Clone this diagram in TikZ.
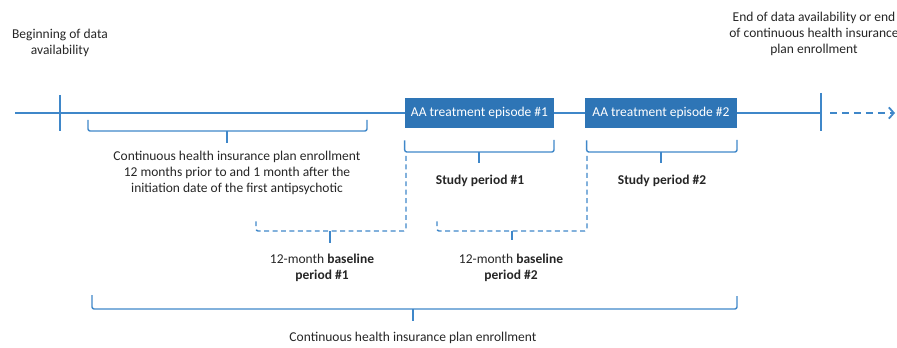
\documentclass[tikz,border=0pt]{standalone}
\usepackage{fontspec}
\setmainfont{Carlito}
\usetikzlibrary{arrows.meta}
\definecolor{aablue}{HTML}{2E75B6}
\definecolor{lineblue}{HTML}{3F87C9}
\definecolor{txtgray}{HTML}{262626}

\begin{document}
\begin{tikzpicture}[x=0.025cm,y=-0.025cm,
  every node/.style={align=center, text=txtgray, font=\fontsize{9.6}{11.4}\selectfont},
  tl/.style={draw=lineblue, line width=1.3pt},
  brace/.style={draw=lineblue, line width=1pt, rounded corners=1.5pt},
  dbrace/.style={brace, dash pattern=on 3.5pt off 2.5pt},
  episode/.style={fill=aablue, text=white, inner sep=0pt, minimum height=0.75cm,
    font=\fontsize{9.6}{12}\selectfont}]
  \useasboundingbox (0,0) rectangle (897,348);

  % labels at the ends of the timeline
  \node (begin) at (60,43) {Beginning of data\\availability};
  \node (endtxt) at (814,34) {End of data availability or end\\of continuous health insurance\\plan enrollment};

  % timeline
  \node[episode, minimum width=3.725cm] (ep1) at (479.5,113) {AA treatment episode \#1};
  \node[episode, minimum width=3.8cm] (ep2) at (661,113) {AA treatment episode \#2};
  \coordinate (start) at (15,113);
  \coordinate (stop) at (821,113);
  \coordinate (fut) at (830,113);
  \coordinate (futend) at (895,113);
  \draw[tl] (start) -- (ep1.west);
  \draw[tl] (ep1.east) -- (ep2.west);
  \draw[tl] (ep2.east) -- (stop);
  \draw[tl, dash pattern=on 5pt off 3.5pt, -{Straight Barb[length=3.5pt,width=8pt]}] (fut) -- (futend);
  \draw[tl] (60,95) -- (60,131);
  \draw[tl] (stop) ++(0,-20) -- ++(0,38);

  % enrollment around the first antipsychotic
  \draw[brace] (88,120) |- (367,131) -- (367,120);
  \draw[brace] (227,131) -- (227,143);
  \node (cont1) at (237,173) {Continuous health insurance plan enrollment\\12 months prior to and 1 month after the\\initiation date of the first antipsychotic};

  % study periods
  \draw[brace] (ep1.south west) ++(0,12) |- (554,152) -- (554,140);
  \draw[brace] (479,152) -- (479,163);
  \node (study1) at (480,181) {\textbf{Study period \#1}};
  \draw[brace] (ep2.south west) ++(2,12) |- (737,152) -- (737,140);
  \draw[brace] (661,152) -- (661,163);
  \node (study2) at (662,181) {\textbf{Study period \#2}};

  % baseline periods
  \draw[dbrace] (406,156) -- (406,231) -- (256,231) -- (256,218);
  \draw[brace] (330,231) -- (330,243);
  \node (base1) at (322,268) {12-month \textbf{baseline}\\\textbf{period \#1}};
  \draw[dbrace] (587,156) -- (587,231) -- (437,231) -- (437,218);
  \draw[brace] (512,231) -- (512,240);
  \node (base2) at (511,268) {12-month \textbf{baseline}\\\textbf{period \#2}};

  % whole enrollment
  \draw[brace] (92,295) |- (737,309) -- (737,296);
  \draw[brace] (413,309) -- (413,321);
  \node (cont2) at (413,338) {Continuous health insurance plan enrollment};
\end{tikzpicture}
\end{document}
